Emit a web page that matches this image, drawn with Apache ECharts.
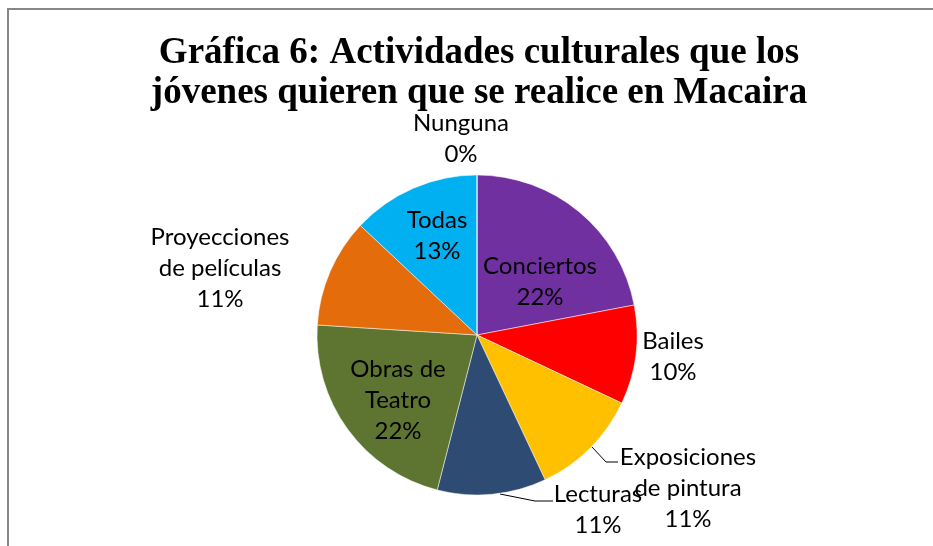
<!DOCTYPE html>
<html>
<head>
<meta charset="utf-8">
<script src="https://cdn.jsdelivr.net/npm/echarts@6/dist/echarts.min.js"></script>
<style>
html,body{margin:0;padding:0;background:#fff;}
#main{width:933px;height:546px;}
</style>
</head>
<body>
<div id="main"></div>
<script>
const titleText = 'Gráfica 6: Actividades culturales que los\njóvenes quieren que se realice en Macaira';
const categories = ['Conciertos', 'Bailes', 'Exposiciones\nde pintura', 'Lecturas', 'Obras de\nTeatro', 'Proyecciones\nde películas', 'Todas', 'Nunguna'];
const values = [22, 10, 11, 11, 22, 11, 13, 0];
const colors = ['#7030A0', '#FF0000', '#FFC000', '#2E4B73', '#5E7431', '#E46C0A', '#00B0F0', '#A5A5A5'];

// label placement (layout only)
const labelPos = [
  [540, 282], [673, 357], [688, 488], [598, 510], [398, 400], [220, 268], [437, 236], [461, 139]
];
const labelLines = {
  2: [[592, 447], [606, 462], [618, 462]],
  3: [[500, 494], [535, 501], [553, 501]]
};

const chart = echarts.init(document.getElementById('main'));
chart.setOption({
  animation: false,
  backgroundColor: '#fff',
  title: {
    text: titleText,
    left: 474,
    top: 28,
    textAlign: 'center',
    textStyle: {
      fontFamily: '"Liberation Serif", "Times New Roman", serif',
      fontWeight: 'bold',
      fontSize: 37,
      lineHeight: 40,
      color: '#000'
    }
  },
  graphic: [
    { type: 'line', shape: { x1: 8, y1: 9, x2: 933, y2: 9 }, style: { stroke: '#868686', lineWidth: 2 } },
    { type: 'line', shape: { x1: 8, y1: 8, x2: 8, y2: 546 }, style: { stroke: '#868686', lineWidth: 2 } }
  ],
  series: [{
    type: 'pie',
    center: [477, 335],
    radius: 160,
    startAngle: 90,
    clockwise: true,
    avoidLabelOverlap: false,
    minShowLabelAngle: 0,
    itemStyle: { borderColor: '#fff', borderWidth: 0.5 },
    label: {
      show: true,
      position: 'outside',
      formatter: function (p) { return p.name + '\n' + Math.round(p.value) + '%'; },
      fontFamily: 'Lato, "Open Sans", sans-serif',
      fontSize: 24,
      lineHeight: 31,
      color: '#000',
      align: 'center'
    },
    labelLine: { show: false, lineStyle: { color: '#000', width: 1 } },
    labelLayout: function (params) {
      const i = params.dataIndex;
      const r = { x: labelPos[i][0], y: labelPos[i][1], align: 'center', verticalAlign: 'middle' };
      if (labelLines[i]) r.labelLinePoints = labelLines[i];
      return r;
    },
    data: categories.map(function (c, i) {
      const d = { name: c, value: values[i], itemStyle: { color: colors[i] } };
      if (labelLines[i]) d.labelLine = { show: true, length: 10, length2: 10 };
      return d;
    })
  }]
});
</script>
</body>
</html>
